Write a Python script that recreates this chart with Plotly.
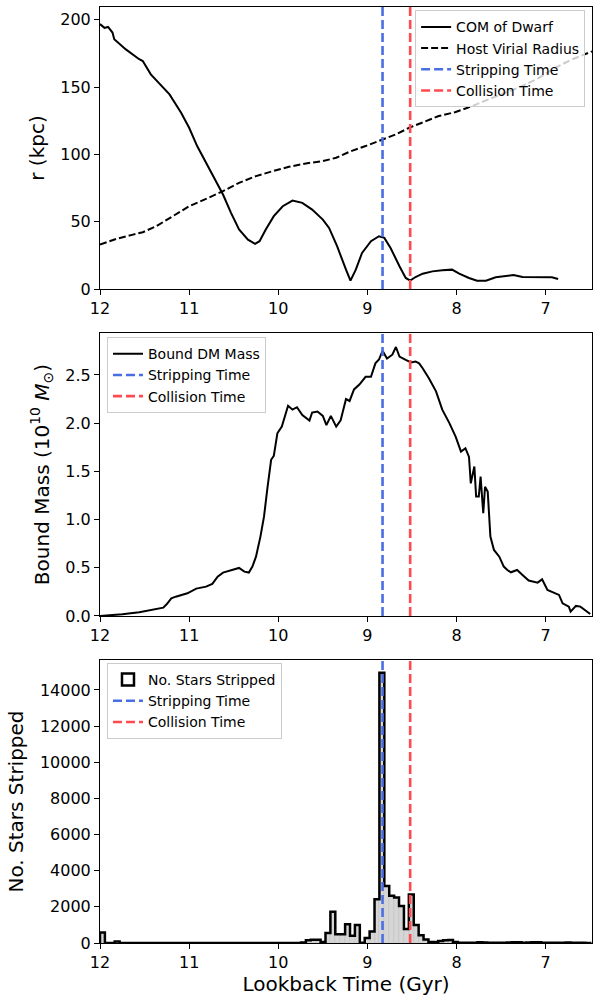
import numpy as np
import plotly.graph_objects as go

# ---------------- data ----------------
time_com = [12.0, 11.95, 11.91, 11.86, 11.84, 11.78, 11.71, 11.56, 11.52, 11.43, 11.22, 11.09,
            11.0, 10.91, 10.79, 10.70, 10.62, 10.53, 10.44, 10.34, 10.26, 10.21, 10.14, 10.05,
            9.95, 9.84, 9.73, 9.62, 9.50, 9.43, 9.34, 9.24, 9.19, 9.13, 9.06, 8.96, 8.87, 8.81,
            8.74, 8.64, 8.57, 8.52, 8.46, 8.38, 8.27, 8.16, 8.05, 7.97, 7.86, 7.77, 7.67, 7.56,
            7.45, 7.36, 7.26, 7.15, 7.04, 6.93, 6.86]
r_com = [196.8, 194.0, 194.7, 190.5, 185.6, 181.9, 178.0, 170.7, 169.4, 159.5, 144.6, 131.0,
         119.8, 106.2, 91.3, 80.1, 70.2, 56.6, 44.2, 36.7, 33.5, 35.5, 44.2, 54.1,
         61.5, 65.7, 64.0, 59.0, 51.6, 45.4, 31.8, 14.4, 6.2, 14.4, 26.8, 35.5, 39.2, 38.0,
         30.5, 16.9, 8.2, 6.2, 8.9, 11.4, 13.1, 13.9, 14.4, 11.4, 8.2, 6.2, 6.2, 8.7,
         9.9, 10.4, 8.9, 8.9, 8.4, 8.7, 7.4]

time_vir = [12.0, 11.82, 11.63, 11.52, 11.37, 11.19, 11.0, 10.81, 10.62, 10.44, 10.25, 10.06,
            9.88, 9.69, 9.50, 9.35, 9.20, 9.02, 8.83, 8.68, 8.53, 8.38, 8.20, 8.01, 7.82,
            7.64, 7.45, 7.26, 7.07, 6.89, 6.70, 6.48]
r_vir = [33.0, 37.2, 40.4, 42.2, 46.6, 54.1, 61.5, 67.0, 72.7, 78.9, 83.9, 87.6,
         90.8, 93.3, 95.0, 97.5, 102.0, 106.2, 111.1, 114.9, 119.8, 124.0, 128.5, 131.5, 136.0,
         140.9, 145.9, 150.8, 157.0, 164.5, 170.7, 176.5]

time_mass = [12.0, 11.75, 11.56, 11.37, 11.29, 11.25, 11.20, 11.15, 11.02, 10.92, 10.81, 10.74,
             10.68, 10.62, 10.55, 10.48, 10.44, 10.38, 10.33, 10.29, 10.25, 10.20, 10.16, 10.12,
             10.08, 10.05, 10.01, 9.96, 9.92, 9.89, 9.84, 9.79, 9.73, 9.65, 9.62, 9.56, 9.50,
             9.46, 9.41, 9.35, 9.30, 9.24, 9.20, 9.15, 9.09, 9.02, 8.96, 8.91, 8.87, 8.83, 8.78,
             8.72, 8.68, 8.64, 8.57, 8.51, 8.46, 8.42, 8.38, 8.31, 8.23, 8.16, 8.08, 8.01, 7.95,
             7.90, 7.86, 7.84, 7.80, 7.78, 7.75, 7.73, 7.70, 7.68, 7.65, 7.62, 7.58, 7.52, 7.47,
             7.43, 7.39, 7.32, 7.26, 7.19, 7.09, 7.04, 6.98, 6.93, 6.85, 6.81, 6.74, 6.72, 6.66,
             6.61, 6.55, 6.50]
mass_dm = [0.0, 0.017, 0.038, 0.069, 0.086, 0.124, 0.183, 0.20, 0.235, 0.284, 0.304, 0.332,
           0.408, 0.45, 0.47, 0.484, 0.498, 0.46, 0.45, 0.512, 0.615, 0.823, 1.03, 1.34,
           1.62, 1.66, 1.895, 1.964, 2.085, 2.18, 2.14, 2.165, 2.085, 2.026, 2.11, 2.12, 2.075,
           1.98, 2.075, 1.964, 2.03, 2.25, 2.23, 2.35, 2.40, 2.48, 2.48, 2.62, 2.66, 2.75, 2.67,
           2.71, 2.79, 2.69, 2.656, 2.63, 2.64, 2.62, 2.57, 2.465, 2.33, 2.14, 2.0, 1.86, 1.705,
           1.74, 1.65, 1.376, 1.55, 1.24, 1.24, 1.445, 1.065, 1.34, 1.29, 0.823, 0.685, 0.615, 0.512,
           0.477, 0.453, 0.477, 0.425, 0.367, 0.346, 0.38, 0.27, 0.252, 0.218, 0.131, 0.097, 0.045, 0.104,
           0.097, 0.052, 0.02]

hist_range = (12.0, 6.5)
stars_stripped = [580, 0, 0, 80, 0, 0, 0, 0, 0, 0,
                  0, 0, 0, 0, 0, 0, 0, 0, 0, 0,
                  0, 0, 0, 0, 0, 0, 0, 0, 0, 0,
                  0, 0, 0, 0, 0, 0, 0, 0, 0, 0,
                  0, 30, 150, 185, 185, 55, 555, 1730, 480, 480,
                  1040, 400, 990, 20, 280, 640, 2420, 14950, 3150, 2620,
                  2520, 2050, 780, 2680, 1000, 430, 190, 60, 60, 110,
                  150, 160, 60, 20, 15, 10, 20, 35, 25, 20,
                  10, 15, 20, 25, 45, 40, 20, 30, 40, 35,
                  15, 10, 20, 10, 15, 25, 10, 10, 15, 5]

strip_time = 8.83
collision_time = 8.52
x_ticks = [12, 11, 10, 9, 8, 7]
r_ticks = [0, 50, 100, 150, 200]
mass_ticks = [0.0, 0.5, 1.0, 1.5, 2.0, 2.5]
star_ticks = [0, 2000, 4000, 6000, 8000, 10000, 12000, 14000]

# ---------------- figure ----------------
BLUE = '#4a6fe3'
RED = '#ff4a50'
FONT = 'DejaVu Sans'
y1max, y2max, y3max = 209.5, 2.935, 15660

edges = np.linspace(hist_range[0], hist_range[1], len(stars_stripped) + 1)
centers = 0.5 * (edges[:-1] + edges[1:])
width = float(edges[0] - edges[1])
counts = np.array(stars_stripped, dtype=float)

fig = go.Figure()

# bottom panel bars first (so they sit beneath lines)
fig.add_trace(go.Bar(x=[None], y=[None], name='No. Stars Stripped', xaxis='x3', yaxis='y3',
                     marker=dict(color='white', line=dict(color='black', width=2.5)),
                     legend='legend3', showlegend=True))
fig.add_trace(go.Bar(x=centers, y=counts, width=width, xaxis='x3', yaxis='y3',
                     marker=dict(color='#d6d6d6', line=dict(color='#bdbdbd', width=0.5)),
                     showlegend=False, hoverinfo='skip'))
step_x = [edges[0]] + list(edges[:-1]) + [edges[-1], edges[-1]]
step_y = [0] + list(counts) + [counts[-1], 0]
fig.add_trace(go.Scatter(x=step_x, y=step_y, mode='lines', line=dict(color='black', width=2.5, shape='hv'),
                         xaxis='x3', yaxis='y3', showlegend=False, hoverinfo='skip'))

# top panel
fig.add_trace(go.Scatter(x=time_com, y=r_com, mode='lines', name='COM of Dwarf',
                         line=dict(color='black', width=2), xaxis='x', yaxis='y', legend='legend'))
fig.add_trace(go.Scatter(x=time_vir, y=r_vir, mode='lines', name='Host Virial Radius',
                         line=dict(color='black', width=2, dash='7px,3px'), xaxis='x', yaxis='y', legend='legend'))

# middle panel
fig.add_trace(go.Scatter(x=time_mass, y=mass_dm, mode='lines', name='Bound DM Mass',
                         line=dict(color='black', width=2), xaxis='x2', yaxis='y2', legend='legend2'))

# vertical lines in each panel
for ax, ymax, lg in [('', y1max, 'legend'), ('2', y2max, 'legend2'), ('3', y3max, 'legend3')]:
    fig.add_trace(go.Scatter(x=[strip_time, strip_time], y=[0, ymax], mode='lines', name='Stripping Time',
                             line=dict(color=BLUE, width=2.6, dash='9px,4px'),
                             xaxis='x' + ax, yaxis='y' + ax, legend=lg))
    fig.add_trace(go.Scatter(x=[collision_time, collision_time], y=[0, ymax], mode='lines', name='Collision Time',
                             line=dict(color=RED, width=2.6, dash='9px,4px'),
                             xaxis='x' + ax, yaxis='y' + ax, legend=lg))

axis_common = dict(showline=True, linecolor='black', linewidth=1, mirror=True, ticks='outside',
                   ticklen=5, tickwidth=1, tickcolor='black', showgrid=False, zeroline=False,
                   tickfont=dict(size=16, color='black', family=FONT))
title_font = dict(size=20, color='black', family=FONT)

xa = dict(axis_common, range=[12.0, 6.48], tickvals=x_ticks, ticktext=[str(v) for v in x_ticks],
          domain=[0, 1])
legend_common = dict(bgcolor='rgba(255,255,255,0.8)', bordercolor='#cccccc', borderwidth=1,
                     font=dict(size=14, color='black', family=FONT), tracegroupgap=0)

fig.update_layout(
    width=593, height=996, autosize=False,
    margin=dict(l=100, r=1, t=7, b=53),
    plot_bgcolor='white', paper_bgcolor='white',
    font=dict(family=FONT, color='black'),
    barmode='overlay', bargap=0,
    xaxis=dict(xa, anchor='y'),
    xaxis2=dict(xa, anchor='y2'),
    xaxis3=dict(xa, anchor='y3', title=dict(text='Lookback Time (Gyr)', font=title_font, standoff=6)),
    yaxis=dict(axis_common, anchor='x', domain=[0.6987, 1.0], range=[0, y1max], tickvals=r_ticks,
               ticktext=[str(v) for v in r_ticks],
               title=dict(text='r (kpc)', font=title_font, standoff=10)),
    yaxis2=dict(axis_common, anchor='x2', domain=[0.3494, 0.6517], range=[0, y2max], tickvals=mass_ticks,
                ticktext=['%.1f' % v for v in mass_ticks],
                title=dict(text='Bound Mass (10<sup>10</sup> <i>M</i><sub>⊙</sub>)', font=title_font, standoff=10)),
    yaxis3=dict(axis_common, anchor='x3', domain=[0, 0.3024], range=[0, y3max], tickvals=star_ticks,
                ticktext=[str(v) for v in star_ticks],
                title=dict(text='No. Stars Stripped', font=title_font, standoff=10)),
    legend=dict(legend_common, x=0.986, y=0.9965, xanchor='right', yanchor='top'),
    legend2=dict(legend_common, x=0.0142, y=0.6473, xanchor='left', yanchor='top'),
    legend3=dict(legend_common, x=0.0142, y=0.2992, xanchor='left', yanchor='top'),
)

fig.write_html('out.html')
